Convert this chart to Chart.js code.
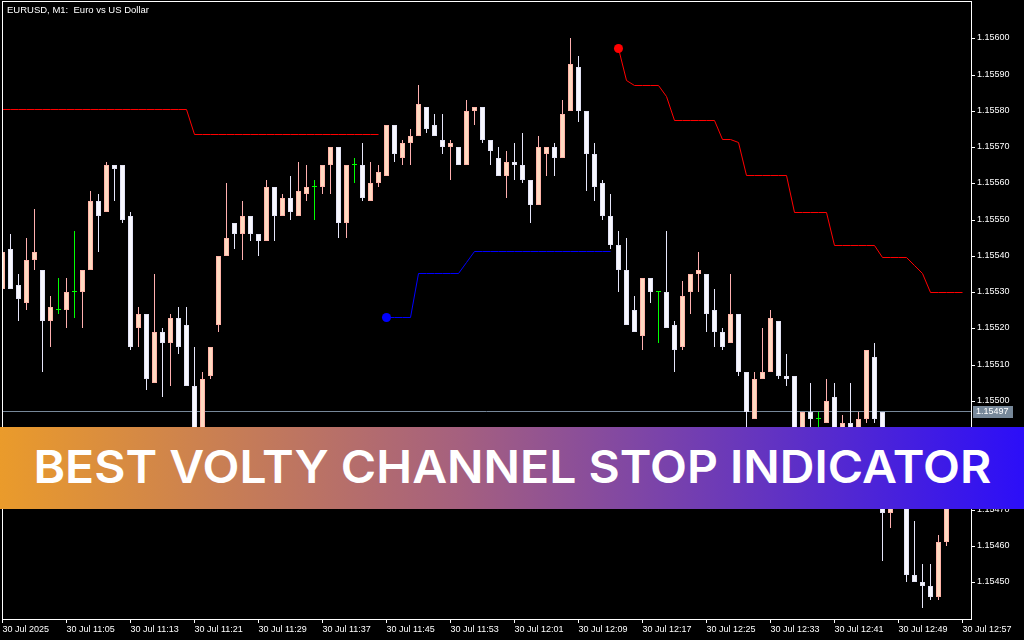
<!DOCTYPE html>
<html>
<head>
<meta charset="utf-8">
<title>EURUSD M1 - Volty Channel Stop</title>
<script src="https://cdn.jsdelivr.net/npm/chart.js@4.4.1/dist/chart.umd.min.js"></script>
<style>
  html, body { margin: 0; padding: 0; background: #000; }
  #wrap { position: relative; width: 1024px; height: 640px; overflow: hidden; background: #000; }
  #chart { position: absolute; left: 0; top: 0; }
  #symbol { position: absolute; left: 7px; top: 4px; color: #fff; font: 9.5px/11px "Liberation Sans", Arial, sans-serif; white-space: pre; }
  #banner { position: absolute; left: 0; top: 427px; width: 1024px; height: 82px;
            background: linear-gradient(90deg, #EA9B2B 0%, #A5607F 45%, #2C0EF8 100%);
            display: flex; align-items: center; justify-content: center; }
  #banner span { color: #fff; font: 600 45px Inter, "Open Sans", sans-serif; white-space: nowrap;
                 display: inline-block; transform-origin: center; padding-bottom: 3px; }
</style>
</head>
<body>
<div id="wrap">
  <canvas id="chart" width="1024" height="640"></canvas>
  <div id="symbol">EURUSD, M1:  Euro vs US Dollar</div>
  <div id="banner"><span>BEST VOLTY CHANNEL STOP INDICATOR</span></div>
</div>
<script>
// EURUSD M1 candles, one bar per minute starting 30 Jul 10:57
var opens = [
  1.15531,1.15542,1.15532,1.15527,1.15539,1.15536,1.15522,1.15525,1.15525,1.15530,
  1.15530,1.15536,1.15555,1.15552,1.15565,1.15565,1.15551,1.15520,1.15524,1.15505,
  1.15519,1.15516,1.15523,1.15521,1.15504,1.15490,1.15507,1.15521,1.15540,1.15549,
  1.15546,1.15551,1.15546,1.15544,1.15559,1.15551,1.15556,1.15551,1.15557,1.15559,
  1.15559,1.15565,1.15570,1.15549,1.15565,1.15565,1.15555,1.15560,1.15562,1.15576,
  1.15567,1.15571,1.15573,1.15581,1.15576,1.15572,1.15570,1.15570,1.15565,1.15580,
  1.15581,1.15572,1.15567,1.15562,1.15566,1.15565,1.15561,1.15554,1.15568,1.15570,
  1.15567,1.15580,1.15592,1.15580,1.15568,1.15560,1.15551,1.15543,1.15536,1.15525,
  1.15518,1.15534,1.15530,1.15530,1.15521,1.15515,1.15530,1.15535,1.15535,1.15525,
  1.15519,1.15516,1.15524,1.15508,1.15495,1.15506,1.15508,1.15522,1.15507,1.15507,
  1.15488,1.15497,1.15495,1.15494,1.15501,1.15489,1.15494,1.15488,1.15495,1.15512,
  1.15497,1.15469,1.15475,1.15473,1.15452,1.15450,1.15449,1.15446,1.15461
];
var highs = [
  1.15543,1.15546,1.15535,1.15545,1.15553,1.15536,1.15529,1.15534,1.15534,1.15547,
  1.15536,1.15558,1.15557,1.15566,1.15565,1.15565,1.15552,1.15526,1.15524,1.15535,
  1.15520,1.15524,1.15526,1.15526,1.15515,1.15508,1.15515,1.15540,1.15560,1.15549,
  1.15555,1.15551,1.15546,1.15561,1.15559,1.15557,1.15562,1.15566,1.15565,1.15561,
  1.15565,1.15570,1.15570,1.15565,1.15567,1.15571,1.15566,1.15565,1.15576,1.15576,
  1.15572,1.15575,1.15587,1.15581,1.15579,1.15579,1.15572,1.15570,1.15583,1.15581,
  1.15581,1.15572,1.15570,1.15569,1.15571,1.15574,1.15561,1.15573,1.15570,1.15571,
  1.15583,1.15600,1.15595,1.15580,1.15571,1.15561,1.15557,1.15547,1.15545,1.15529,
  1.15534,1.15534,1.15530,1.15547,1.15522,1.15533,1.15535,1.15541,1.15535,1.15531,
  1.15520,1.15535,1.15524,1.15508,1.15508,1.15520,1.15525,1.15522,1.15513,1.15507,
  1.15497,1.15505,1.15497,1.15506,1.15505,1.15496,1.15505,1.15497,1.15514,1.15516,
  1.15497,1.15478,1.15479,1.15475,1.15467,1.15455,1.15455,1.15463,1.15478
];
var lows = [
  1.15530,1.15531,1.15522,1.15525,1.15536,1.15508,1.15515,1.15524,1.15520,1.15523,
  1.15520,1.15536,1.15541,1.15552,1.15555,1.15549,1.15514,1.15515,1.15503,1.15505,
  1.15501,1.15504,1.15513,1.15504,1.15486,1.15488,1.15506,1.15519,1.15540,1.15542,
  1.15539,1.15544,1.15540,1.15544,1.15544,1.15551,1.15550,1.15551,1.15555,1.15550,
  1.15557,1.15557,1.15545,1.15545,1.15560,1.15555,1.15555,1.15559,1.15562,1.15566,
  1.15565,1.15565,1.15573,1.15574,1.15573,1.15568,1.15561,1.15565,1.15565,1.15576,
  1.15571,1.15565,1.15562,1.15556,1.15561,1.15560,1.15549,1.15554,1.15562,1.15562,
  1.15567,1.15580,1.15577,1.15558,1.15555,1.15550,1.15542,1.15530,1.15521,1.15519,
  1.15514,1.15527,1.15516,1.15520,1.15508,1.15514,1.15524,1.15530,1.15519,1.15515,
  1.15514,1.15516,1.15507,1.15492,1.15495,1.15506,1.15508,1.15506,1.15504,1.15485,
  1.15487,1.15492,1.15490,1.15494,1.15488,1.15487,1.15485,1.15486,1.15494,1.15494,
  1.15456,1.15465,1.15471,1.15450,1.15450,1.15443,1.15445,1.15445,1.15460
];
var closes = [
  1.15541,1.15531,1.15528,1.15539,1.15541,1.15522,1.15526,1.15525,1.15530,1.15530,
  1.15536,1.15555,1.15551,1.15565,1.15564,1.15550,1.15515,1.15524,1.15506,1.15519,
  1.15516,1.15523,1.15515,1.15504,1.15489,1.15506,1.15515,1.15540,1.15545,1.15546,
  1.15551,1.15546,1.15544,1.15559,1.15551,1.15556,1.15552,1.15558,1.15559,1.15559,
  1.15565,1.15570,1.15549,1.15565,1.15565,1.15556,1.15560,1.15563,1.15576,1.15568,
  1.15571,1.15573,1.15582,1.15575,1.15573,1.15570,1.15571,1.15565,1.15580,1.15581,
  1.15572,1.15569,1.15562,1.15566,1.15565,1.15561,1.15554,1.15570,1.15570,1.15567,
  1.15579,1.15593,1.15580,1.15568,1.15559,1.15551,1.15543,1.15536,1.15521,1.15519,
  1.15534,1.15530,1.15530,1.15520,1.15514,1.15529,1.15535,1.15536,1.15524,1.15519,
  1.15515,1.15524,1.15508,1.15497,1.15506,1.15508,1.15523,1.15507,1.15506,1.15487,
  1.15497,1.15495,1.15495,1.15500,1.15490,1.15494,1.15487,1.15495,1.15514,1.15495,
  1.15469,1.15476,1.15472,1.15452,1.15450,1.15449,1.15446,1.15461,1.15476
];

// Volty Channel Stop, one value per bar (null while that side is not active)
var upperStop = [
  1.155805,1.155805,1.155805,1.155805,1.155805,1.155805,1.155805,1.155805,
  1.155805,1.155805,1.155805,1.155805,1.155805,1.155805,1.155805,1.155805,
  1.155805,1.155805,1.155805,1.155805,1.155805,1.155805,1.155805,1.155805,
  1.155735,1.155735,1.155735,1.155735,1.155735,1.155735,1.155735,1.155735,
  1.155735,1.155735,1.155735,1.155735,1.155735,1.155735,1.155735,1.155735,
  1.155735,1.155735,1.155735,1.155735,1.155735,1.155735,1.155735,1.155735,
  null,null,null,null,null,null,null,null,null,null,
  null,null,null,null,null,null,null,null,null,null,
  null,null,null,null,null,null,null,null,null,
  1.155972,1.155885,1.155871,1.155871,1.155871,1.155871,1.155842,
  1.155775,1.155775,1.155775,1.155775,1.155775,1.155775,
  1.155722,1.155721,1.155715,
  1.155622,1.155622,1.155622,1.155622,1.155622,1.155622,
  1.155520,1.155520,1.155520,1.155520,1.155520,
  1.155429,1.155429,1.155429,1.155429,1.155429,1.155429,
  1.155396,1.155396,1.155396,1.155396,1.155375,1.155354,
  1.155300,1.155300,1.155300,1.155300,1.155300
];
var lowerStop = [
  null,null,null,null,null,null,null,null,null,null,null,null,
  null,null,null,null,null,null,null,null,null,null,null,null,
  null,null,null,null,null,null,null,null,null,null,null,null,
  null,null,null,null,null,null,null,null,null,null,null,null,
  1.155231,1.155231,1.155231,1.155231,
  1.155354,1.155354,1.155354,1.155354,1.155354,1.155354,
  1.155384,
  1.155414,1.155414,1.155414,1.155414,1.155414,1.155414,1.155414,1.155414,1.155414,
  1.155414,1.155414,1.155414,1.155414,1.155414,1.155414,1.155414,1.155414,1.155414,
  null,null,null,null,null,null,null,null,null,null,null,
  null,null,null,null,null,null,null,null,null,null,null,
  null,null,null,null,null,null,null,null,null,null,null,
  null,null,null,null,null,null,null,null,null,null,null
];

// time axis: one label every 8 bars
var timeLabels = [
  '30 Jul 2025', '30 Jul 11:05', '30 Jul 11:13', '30 Jul 11:21', '30 Jul 11:29',
  '30 Jul 11:37', '30 Jul 11:45', '30 Jul 11:53', '30 Jul 12:01', '30 Jul 12:09',
  '30 Jul 12:17', '30 Jul 12:25', '30 Jul 12:33', '30 Jul 12:41', '30 Jul 12:49',
  '30 Jul 12:57'
];
var labelEvery = 8;
var priceTicks = [
  1.15450, 1.15460, 1.15470, 1.15480, 1.15490, 1.15500, 1.15510, 1.15520,
  1.15530, 1.15540, 1.15550, 1.15560, 1.15570, 1.15580, 1.15590, 1.15600
];
var currentPrice = 1.15497;

// colours
var bullFill = '#FFDAC1', bullEdge = '#FFB4A8', bullWick = '#FFB0B0';
var bearFill = '#F8F8FF', bearEdge = '#E2E2F4', bearWick = '#E6E6FA';
var dojiColor = '#00FF00';
var axisFont = { family: 'Liberation Sans', size: 9 };

function candleKind(i) {
    if (closes[i] > opens[i]) return 'bull';
    if (closes[i] < opens[i]) return 'bear';
    return 'doji';
}

var wickData = opens.map(function(o, i) { return { x: i, y: [lows[i], highs[i]] }; });
var bodyData = opens.map(function(o, i) { return { x: i, y: [opens[i], closes[i]] }; });
var wickColors = opens.map(function(o, i) {
    var k = candleKind(i);
    return k === 'bull' ? bullWick : k === 'bear' ? bearWick : dojiColor;
});
var bodyFills = opens.map(function(o, i) {
    var k = candleKind(i);
    return k === 'bull' ? bullFill : k === 'bear' ? bearFill : dojiColor;
});
var bodyEdges = opens.map(function(o, i) {
    var k = candleKind(i);
    return k === 'bull' ? bullEdge : k === 'bear' ? bearEdge : dojiColor;
});

function stopPoints(values) {
    return values.map(function(v, i) { return { x: i, y: v }; });
}

// big dot where a stop line begins after a gap
function startDot(ctx) {
    var d = ctx.dataset.data, i = ctx.dataIndex;
    if (i > 0 && d[i].y !== null && d[i - 1].y === null) return 4.5;
    return 0;
}

// white frame round the plot area
var framePlugin = {
    id: 'frame',
    afterDatasetsDraw: function(chart) {
        var a = chart.chartArea, ctx = chart.ctx;
        ctx.save();
        ctx.strokeStyle = '#ffffff';
        ctx.lineWidth = 1;
        ctx.strokeRect(Math.floor(a.left) + 0.5, Math.floor(a.top) + 0.5,
                       Math.round(a.right - a.left), Math.round(a.bottom - a.top));
        ctx.restore();
    }
};

// y pixels are whole numbers, so shift the 1px stop lines half a pixel to keep them sharp
var crispLines = {
    id: 'crispLines',
    beforeDatasetDraw: function(chart, args) {
        if (args.meta.type === 'line') {
            chart.ctx.save();
            chart.ctx.translate(0, 0.5);
        }
    },
    afterDatasetDraw: function(chart, args) {
        if (args.meta.type === 'line') chart.ctx.restore();
    }
};

// bid line and its label on the price scale
var pricePlugin = {
    id: 'bidLine',
    beforeDatasetsDraw: function(chart) {
        var a = chart.chartArea, ctx = chart.ctx;
        var y = Math.round(chart.scales.y.getPixelForValue(currentPrice)) - 0.5;
        ctx.save();
        ctx.strokeStyle = '#778899';
        ctx.lineWidth = 1;
        ctx.beginPath();
        ctx.moveTo(a.left, y);
        ctx.lineTo(a.right, y);
        ctx.stroke();
        ctx.restore();
    },
    afterDraw: function(chart) {
        var a = chart.chartArea, ctx = chart.ctx;
        var y = Math.round(chart.scales.y.getPixelForValue(currentPrice));
        ctx.save();
        ctx.fillStyle = '#778899';
        ctx.fillRect(a.right + 2, y - 6, 40, 12);
        ctx.fillStyle = '#ffffff';
        ctx.font = '9px "Liberation Sans"';
        ctx.textBaseline = 'middle';
        ctx.textAlign = 'left';
        ctx.fillText(currentPrice.toFixed(5), a.right + 5, y);
        ctx.restore();
    }
};

new Chart(document.getElementById('chart').getContext('2d'), {
    type: 'bar',
    data: {
        datasets: [
            {
                type: 'line', label: 'Upper stop', data: stopPoints(upperStop), order: 0,
                borderColor: '#FF0000', borderWidth: 1, backgroundColor: '#FF0000',
                pointRadius: startDot, pointBackgroundColor: '#FF0000', pointBorderWidth: 0,
                spanGaps: false, tension: 0
            },
            {
                type: 'line', label: 'Lower stop', data: stopPoints(lowerStop), order: 0,
                borderColor: '#0000FF', borderWidth: 1, backgroundColor: '#0000FF',
                pointRadius: startDot, pointBackgroundColor: '#0000FF', pointBorderWidth: 0,
                spanGaps: false, tension: 0
            },
            {
                label: 'Body', data: bodyData, order: 1, grouped: false,
                barThickness: 5, minBarLength: 1, inflateAmount: 0,
                backgroundColor: bodyFills, borderColor: bodyEdges,
                borderWidth: 1, borderSkipped: false
            },
            {
                label: 'Wick', data: wickData, order: 2, grouped: false,
                barThickness: 1, inflateAmount: 0,
                backgroundColor: wickColors, borderWidth: 0
            }
        ]
    },
    options: {
        responsive: false,
        animation: false,
        devicePixelRatio: 1,
        events: [],
        layout: { padding: { top: 1, left: 2, right: 0, bottom: 0 } },
        plugins: { legend: { display: false }, tooltip: { enabled: false } },
        scales: {
            x: {
                type: 'linear',
                offset: false,
                min: -0.0625,
                max: 121.0625,
                grid: { offset: false, drawOnChartArea: false, drawTicks: true, tickLength: 4, color: '#ffffff' },
                border: { display: false },
                afterBuildTicks: function(scale) {
                    scale.ticks = timeLabels.map(function(l, i) { return { value: i * labelEvery }; });
                },
                afterFit: function(scale) {
                    scale.height = 21;
                    scale.paddingLeft = 0;
                    scale.paddingRight = 0;
                },
                ticks: {
                    autoSkip: false, maxRotation: 0, minRotation: 0, align: 'start',
                    padding: 1, color: '#ffffff', font: axisFont,
                    callback: function(value, index) { return timeLabels[index]; }
                }
            },
            y: {
                position: 'right',
                beginAtZero: false,
                alignToPixels: true,
                min: 1.1543989,
                max: 1.1561028,
                grid: { drawOnChartArea: false, drawTicks: true, tickLength: 4, color: '#ffffff' },
                border: { display: false },
                afterBuildTicks: function(scale) {
                    scale.ticks = priceTicks.map(function(v) { return { value: v }; });
                },
                afterFit: function(scale) {
                    scale.width = 53;
                    scale.paddingTop = 0;
                    scale.paddingBottom = 0;
                },
                ticks: {
                    padding: 2, color: '#ffffff', font: axisFont,
                    callback: function(value) { return value.toFixed(5); }
                }
            }
        }
    },
    plugins: [pricePlugin, crispLines, framePlugin]
});

// stretch the banner caption to the width it has in the picture
function fitBanner() {
    var span = document.querySelector('#banner span');
    span.style.transform = 'none';
    var w = span.getBoundingClientRect().width;
    span.style.transform = 'scaleX(' + (958 / w) + ')';
}
fitBanner();
if (document.fonts && document.fonts.ready) document.fonts.ready.then(fitBanner);
</script>
</body>
</html>
